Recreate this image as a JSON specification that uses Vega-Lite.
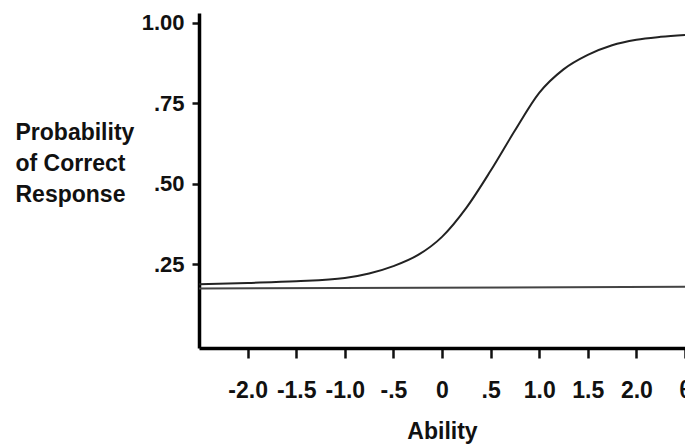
{
  "$schema": "https://vega.github.io/schema/vega-lite/v6.json",
  "autosize": {"type": "none"},
  "width": 486,
  "height": 335,
  "padding": {"left": 199, "top": 13, "right": 0, "bottom": 99},
  "background": "white",
  "config": {
    "view": {"stroke": null},
    "font": "Liberation Sans",
    "axis": {
      "grid": false,
      "domainColor": "#000",
      "domainWidth": 3.5,
      "tickColor": "#111",
      "tickWidth": 2.5,
      "labelColor": "#111",
      "labelFont": "Liberation Sans",
      "labelFontWeight": "bold",
      "labelFontSize": 22,
      "titleColor": "#111",
      "titleFont": "Liberation Sans",
      "titleFontWeight": "bold",
      "titleFontSize": 23
    }
  },
  "datasets": {
    "curve": [
      {"ability": -2.5, "p": 0.188},
      {"ability": -2.0, "p": 0.192},
      {"ability": -1.5, "p": 0.197},
      {"ability": -1.0, "p": 0.207},
      {"ability": -0.75, "p": 0.221},
      {"ability": -0.5, "p": 0.244},
      {"ability": -0.25, "p": 0.278},
      {"ability": 0.0, "p": 0.335},
      {"ability": 0.25, "p": 0.425},
      {"ability": 0.5, "p": 0.54},
      {"ability": 0.75, "p": 0.665},
      {"ability": 1.0, "p": 0.782},
      {"ability": 1.25, "p": 0.855},
      {"ability": 1.5, "p": 0.9},
      {"ability": 1.75, "p": 0.93},
      {"ability": 2.0, "p": 0.947},
      {"ability": 2.25, "p": 0.956},
      {"ability": 2.5, "p": 0.962}
    ],
    "baseline": [
      {"ability": -2.5, "p": 0.175},
      {"ability": 2.5, "p": 0.18}
    ]
  },
  "layer": [
    {
      "data": {"name": "baseline"},
      "mark": {"type": "line", "color": "#444", "strokeWidth": 2},
      "encoding": {
        "x": {
          "field": "ability",
          "type": "quantitative",
          "scale": {"domain": [-2.5, 2.5], "nice": false, "zero": false},
          "axis": {
            "values": [-2, -1.5, -1, -0.5, 0, 0.5, 1, 1.5, 2, 2.5],
            "labelExpr": "datum.value == 2.5 ? 'θ' : datum.value == 0 ? '0' : (datum.value > -1 && datum.value < 1) ? replace(replace(format(datum.value, '.1f'), '0.', '.'), '−', '-') : replace(format(datum.value, '.1f'), '−', '-')",
            "labelFontSize": 23,
            "tickSize": 10,
            "labelPadding": 21,
            "labelDx": -4,
            "labelFlush": false,
            "labelOverlap": false,
            "title": "Ability",
            "titlePadding": 18
          }
        },
        "y": {
          "field": "p",
          "type": "quantitative",
          "scale": {"domain": [-0.01, 1.03], "nice": false, "zero": false},
          "axis": {
            "values": [0.25, 0.5, 0.75, 1.0],
            "labelExpr": "datum.value == 1 ? '1.00' : replace(format(datum.value, '.2f'), '0.', '.')",
            "tickSize": 7,
            "labelPadding": 8,
            "title": ["Probability", "of Correct", "Response"],
            "titleAngle": 0,
            "titleAlign": "left",
            "titleBaseline": "alphabetic",
            "titleX": -184,
            "titleY": 126,
            "titleLineHeight": 31
          }
        }
      }
    },
    {
      "data": {"name": "curve"},
      "mark": {"type": "line", "color": "#222", "strokeWidth": 2, "interpolate": "monotone"},
      "encoding": {
        "x": {"field": "ability", "type": "quantitative"},
        "y": {"field": "p", "type": "quantitative"}
      }
    }
  ]
}
